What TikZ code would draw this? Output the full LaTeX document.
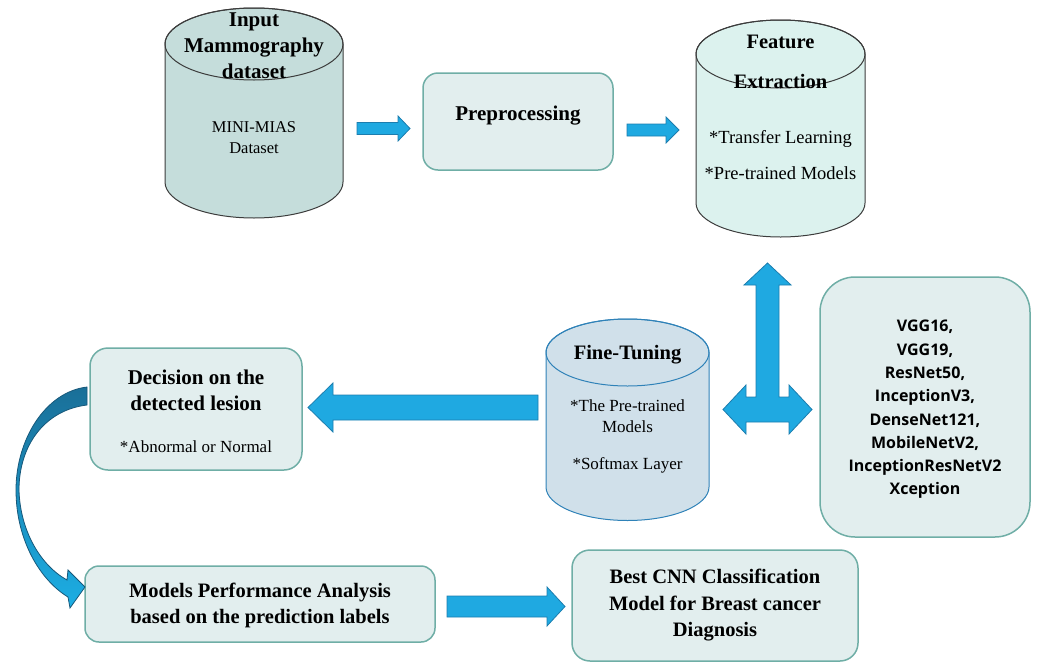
\documentclass[tikz,border=0pt]{standalone}
\usepackage{fontspec}
\setmainfont{Liberation Serif}
\newfontfamily\osans{Open Sans}
\definecolor{boxfill}{HTML}{E2EEEE}
\definecolor{boxline}{HTML}{6FAEA6}
\definecolor{cylA}{HTML}{C5DDDB}
\definecolor{cylB}{HTML}{DCF2EE}
\definecolor{cylC}{HTML}{D0E0EA}
\definecolor{cylline}{HTML}{3C3C3C}
\definecolor{ftline}{HTML}{2F82B8}
\definecolor{arrfill}{HTML}{1FA9E1}
\definecolor{arrline}{HTML}{1C7DAE}
\definecolor{curvtop}{HTML}{1A6F98}
\definecolor{curvbot}{HTML}{1CAEE4}
\definecolor{curvline}{HTML}{17587A}
\newcommand\mycyl[7]{%
  \path[fill=#6,draw=#7,line width=1pt] (#1-#4,#2) -- (#1-#4,#3)
    arc[start angle=180,end angle=360,x radius=#4pt,y radius=#5pt]
    -- (#1+#4,#2)
    arc[start angle=0,end angle=180,x radius=#4pt,y radius=#5pt] -- cycle;
  \draw[draw=#7,line width=1pt] (#1,#2) ellipse[x radius=#4pt,y radius=#5pt];}
\tikzset{
  rbox/.style={draw=boxline,fill=boxfill,line width=1.5pt,inner sep=0pt},
  blockarrow/.style={fill=arrfill,draw=arrline,line width=0.8pt,line join=miter},
  titletext/.style={font=\bfseries\fontsize{20.5}{26}\selectfont,align=center,inner sep=0pt},
  subtext/.style={font=\fontsize{17}{21}\selectfont,align=center,inner sep=0pt},
  listtext/.style={font=\osans\bfseries\fontsize{16}{23.3}\selectfont,align=center,inner sep=0pt}
}
\begin{document}
\begin{tikzpicture}[x=1pt,y=-1pt]
\useasboundingbox (0,0) rectangle (1037,662);

% cylinders
\mycyl{254}{44}{182}{89}{36}{cylA}{cylline}
\mycyl{780.5}{54}{203}{84.5}{34}{cylB}{cylline}
\mycyl{627.5}{352.5}{487}{81.5}{33.5}{cylC}{ftline}

\node[titletext,font=\bfseries\fontsize{21}{26}\selectfont] (inTitle) at (254,46) {Input\\Mammography\\dataset};
\node[subtext,font=\fontsize{16.5}{21}\selectfont] (inSub) at (254,137.5) {MINI-MIAS\\Dataset};

\node[titletext,font=\bfseries\fontsize{20.5}{40}\selectfont] (feTitle) at (780.5,62) {Feature\\Extraction};
\node[subtext,font=\fontsize{18.5}{36}\selectfont] (feSub) at (780.5,155) {*Transfer Learning\\*Pre-trained Models};

\node[titletext] (ftTitle) at (627.5,355) {Fine-Tuning};
\node[subtext] (ftSub) at (627.5,416.5) {*The Pre-trained\\Models};
\node[subtext] (ftSub2) at (627.5,465) {*Softmax Layer};

% rounded boxes
\node[rbox,rounded corners=15pt,minimum width=190pt,minimum height=97pt] (pre) at (518,121.5) {};
\node[titletext,font=\bfseries\fontsize{21}{26}\selectfont] (preT) at (518,116) {Preprocessing};

\node[rbox,rounded corners=35pt,minimum width=210pt,minimum height=260pt] (models) at (925,407) {};
\node[listtext] (modelsT) at (925,409.5) {VGG16,\\VGG19,\\ResNet50,\\InceptionV3,\\DenseNet121,\\MobileNetV2,\\InceptionResNetV2\\Xception};

\node[rbox,rounded corners=18pt,minimum width=212pt,minimum height=122pt] (dec) at (196,409) {};
\node[titletext,font=\bfseries\fontsize{21}{26}\selectfont] (decT) at (196,390.5) {Decision on the\\detected lesion};
\node[subtext] (decS) at (196,447) {*Abnormal or Normal};

\node[rbox,rounded corners=14pt,minimum width=350pt,minimum height=76pt] (perf) at (260,604) {};
\node[titletext] (perfT) at (260,605.5) {Models Performance Analysis\\based on the prediction labels};

\node[rbox,rounded corners=18pt,minimum width=286pt,minimum height=111pt] (best) at (715,605.5) {};
\node[titletext,font=\bfseries\fontsize{20.5}{26.5}\selectfont] (bestT) at (715,605.5) {Best CNN Classification\\Model for Breast cancer\\Diagnosis};

% block arrows
\draw[blockarrow] (357,122.5) -- (398,122.5) -- (398,116) -- (410,128.5) -- (398,141) -- (398,134.5) -- (357,134.5) -- cycle;
\draw[blockarrow] (627,124) -- (666,124) -- (666,117) -- (679,130) -- (666,143) -- (666,136) -- (627,136) -- cycle;
\draw[blockarrow] (538,395) -- (333,395) -- (333,383) -- (308,407.5) -- (333,432) -- (333,420) -- (538,420) -- cycle;
\draw[blockarrow] (447,596) -- (547,596) -- (547,587) -- (565,606.5) -- (547,626) -- (547,617) -- (447,617) -- cycle;
% T-shaped arrow
\draw[blockarrow] (767.5,263) -- (791,285) -- (779,285) -- (779,397) -- (789,397) -- (789,385)
  -- (812,409.5) -- (789,434) -- (789,422) -- (746,422) -- (746,434) -- (723,409.5)
  -- (746,385) -- (746,397) -- (756,397) -- (756,285) -- (744,285) -- cycle;

% curved arrow
\path[top color=curvtop,bottom color=curvbot,draw=curvline,line width=0.8pt]
  (87,387) .. controls (45,392) and (16,440) .. (16,490)
  .. controls (16,540) and (40,580) .. (68,597)
  -- (70,608) -- (85,587) -- (68,570) -- (67,580)
  .. controls (40,565) and (20,530) .. (19,490)
  .. controls (19,445) and (45,410) .. (87,405) -- cycle;
\end{tikzpicture}
\end{document}
